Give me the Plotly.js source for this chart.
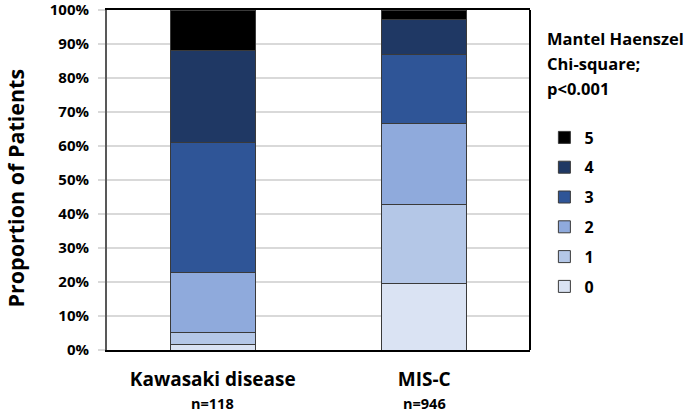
<!DOCTYPE html>
<html><head><meta charset="utf-8">
<script src="https://cdn.plot.ly/plotly-3.0.1.min.js"></script>
<style>html,body{margin:0;padding:0;background:#fff}#chart{width:685px;height:412px}</style>
</head><body><div id="chart"></div>
<script>
var categories = ["Kawasaki disease", "MIS-C"];
var nLabels = ["n=118", "n=946"];
var scores = ["0", "1", "2", "3", "4", "5"];
// proportion (%) of patients per score, per group
var score0 = [1.7, 19.5];
var score1 = [3.5, 23.3];
var score2 = [17.6, 23.8];
var score3 = [38.2, 20.4];
var score4 = [27.0, 10.1];
var score5 = [12.0, 2.9];
var yTicks = [0, 10, 20, 30, 40, 50, 60, 70, 80, 90, 100];
var yTickText = ["0%", "10%", "20%", "30%", "40%", "50%", "60%", "70%", "80%", "90%", "100%"];
var statLines = ["Mantel Haenszel", "Chi-square;", "p<0.001"];
var colors = ["#dae3f3", "#b4c7e7", "#8faadc", "#2f5597", "#1f3864", "#000000"];

var series = [score0, score1, score2, score3, score4, score5];
var FONT = "'Open Sans', Lato, sans-serif";
var traces = series.map(function (vals, i) {
  return {
    type: "bar", x: categories, y: vals, name: scores[i],
    legendgroup: "g" + i, legendrank: 100 - i,
    marker: {color: colors[i], line: {color: "#3a3a3a", width: 1}},
    width: 0.4
  };
});

var annotations = [
  {text: "<b>Proportion of Patients</b>", xref: "paper", yref: "paper",
   x: 0, y: 0.475, xshift: -92, xanchor: "center", yanchor: "middle", textangle: -90, showarrow: false,
   font: {family: FONT, size: 21.5, color: "#000"}}
];
statLines.forEach(function (t, i) {
  annotations.push({text: "<b>" + t + "</b>", xref: "paper", yref: "paper",
    x: 1, y: 1, yshift: -28 - 25 * i, xshift: 15, xanchor: "left", yanchor: "middle", align: "left",
    showarrow: false, font: {family: FONT, size: 16.5, color: "#000"}});
});
categories.forEach(function (c, i) {
  annotations.push({text: "<b>" + nLabels[i] + "</b>", xref: "x", yref: "paper",
    x: c, y: 0, yshift: -53, yanchor: "middle", showarrow: false,
    font: {family: FONT, size: 14.5, color: "#000"}});
});

var layout = {
  width: 685, height: 412,
  margin: {l: 107, r: 155, t: 10, b: 62},
  barmode: "stack",
  paper_bgcolor: "#fff", plot_bgcolor: "#fff",
  font: {family: FONT, color: "#000", size: 14},
  showlegend: true,
  legend: {
    x: 1.034, xanchor: "left", xref: "paper", y: 0.675, yanchor: "top",
    traceorder: "grouped", tracegroupgap: 6,
    font: {family: FONT, size: 16, color: "#000", weight: "bold"},
    bgcolor: "rgba(0,0,0,0)", itemwidth: 30
  },
  xaxis: {
    type: "category", range: [-0.5, 1.5], fixedrange: true,
    tickmode: "array", tickvals: categories,
    ticktext: categories.map(function (c) { return "<b>" + c + "</b>"; }),
    tickfont: {family: FONT, size: 19, color: "#000"},
    showline: true, linecolor: "#000", linewidth: 2, mirror: true,
    ticks: "", ticklabelstandoff: 11, showgrid: false
  },
  yaxis: {
    range: [0, 100], fixedrange: true,
    tickmode: "array", tickvals: yTicks, ticktext: yTickText.map(function (t) { return "<b>" + t + "</b>"; }),
    tickfont: {family: FONT, size: 15, color: "#000"},
    ticklabeloverflow: "allow",
    showgrid: true, gridcolor: "#d9d9d9", gridwidth: 2,
    ticks: "outside", ticklen: 7, tickcolor: "#d9d9d9", tickwidth: 2,
    ticklabelstandoff: 6,
    showline: true, linecolor: "#595959", linewidth: 2, zeroline: false
  },
  shapes: [
    {type: "line", xref: "paper", yref: "paper", x0: 1, x1: 1, y0: 0, y1: 1,
     line: {color: "#000", width: 2}}
  ],
  annotations: annotations
};

Plotly.newPlot("chart", traces, layout, {displayModeBar: false, staticPlot: true});
</script></body></html>
